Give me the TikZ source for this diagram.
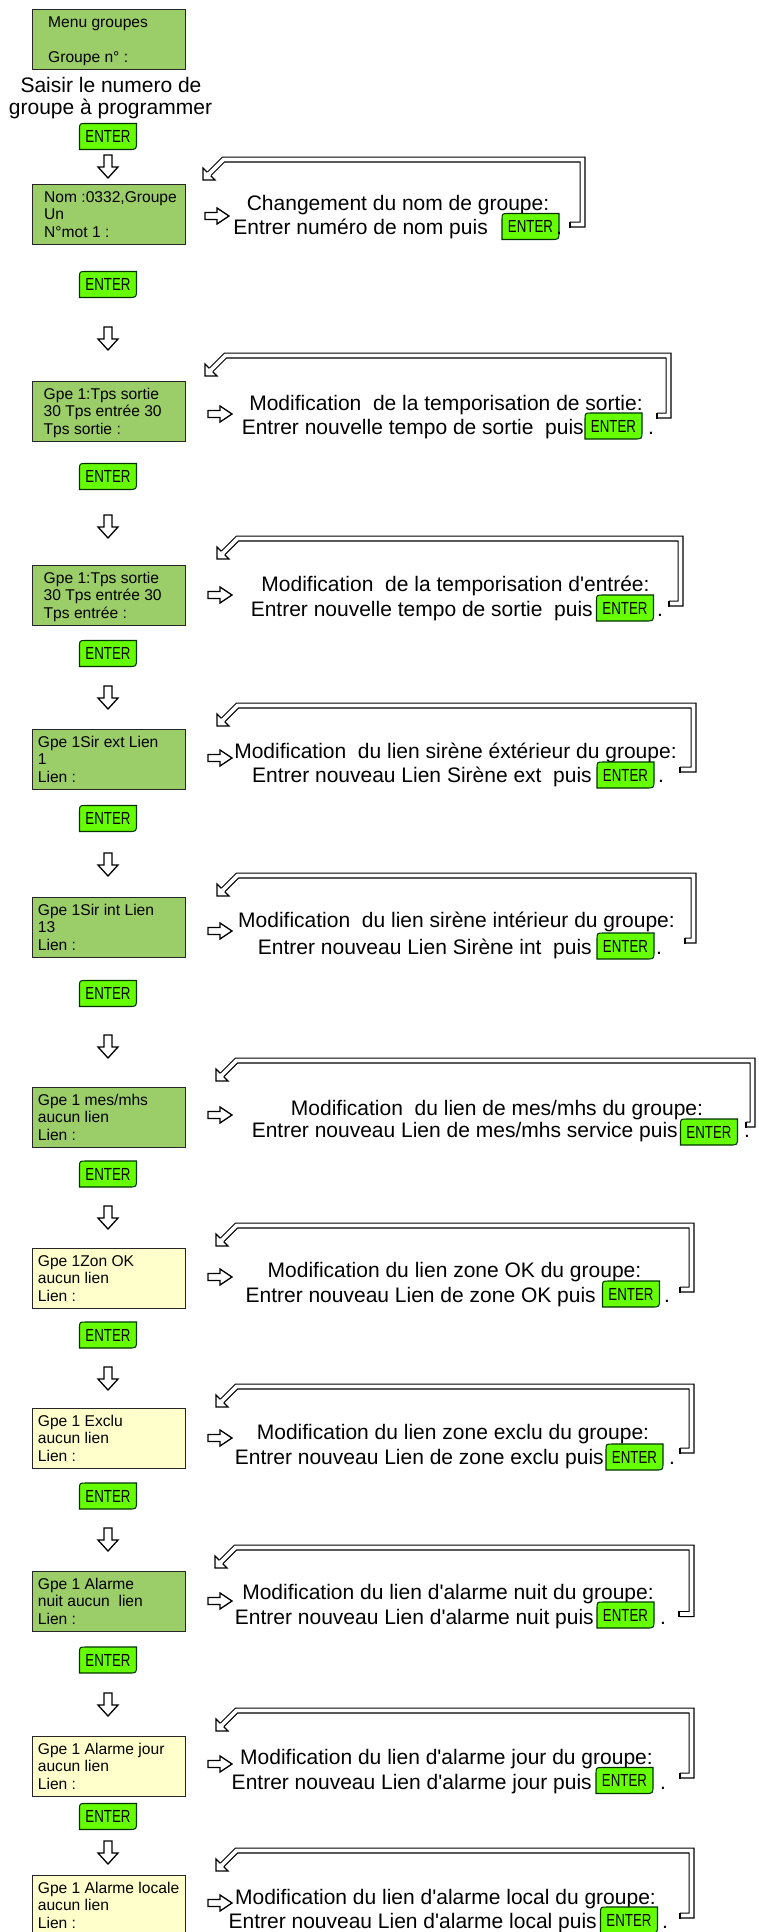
\documentclass[tikz,border=0pt]{standalone}
\usepackage{fontspec}
\setmainfont{Liberation Sans}[Ligatures=TeXOff]
\usetikzlibrary{calc}
\definecolor{boxgreen}{RGB}{155,205,105}
\definecolor{boxyellow}{RGB}{255,255,204}
\definecolor{entergreen}{RGB}{102,255,0}
\tikzset{
  lcdbox/.style={draw=black!85, line width=1.2pt, minimum width=153pt, minimum height=60pt, inner sep=0pt, anchor=north west},
  greenbox/.style={lcdbox, fill=boxgreen},
  yellowbox/.style={lcdbox, fill=boxyellow},
  lcdtext/.style={anchor=base west, inner sep=0pt, font=\fontsize{15.6}{17.6}\selectfont},
  bigtext/.style={inner sep=0pt, font=\fontsize{21}{25}\selectfont},
  entershape/.style={fill=entergreen, draw=black!80!green, line width=1.1pt},
  entertext/.style={inner sep=0pt, font=\fontsize{17.5}{17.5}\selectfont},
  band/.style={double=white, double distance=3.7pt, line width=1.15pt, draw=black, line join=miter},
  bandline/.style={draw=black, line width=1.15pt, line join=miter},
  blockarrow/.style={fill=white, draw=black, line width=1.3pt, line join=miter},
}
% ENTER key: name, centre x, centre y
\newcommand\enterbtn[3]{%
  \path[entershape] (#2-28.5,#3-6.5) .. controls (#2-28.5,#3-13) .. (#2-22,#3-13) -- (#2+28.5,#3-13) -- (#2+28.5,#3+5) .. controls (#2+28.5,#3+13) .. (#2+20.5,#3+13) -- (#2-28.5,#3+13) -- cycle;
  \node[entertext] (#1) at (#2,#3) {\scalebox{0.76}[1]{ENTER}};
}
% hollow down arrow: centre x, top y
\newcommand\downblock[2]{%
  \path[blockarrow] (#1-4,#2) -- (#1+4,#2) -- (#1+4,#2+12) -- (#1+10,#2+12) -- (#1,#2+23) -- (#1-10,#2+12) -- (#1-4,#2+12) -- cycle;}
% hollow right arrow: left x, centre y
\newcommand\rightblock[2]{%
  \path[blockarrow] (#1,#2-3.5) -- (#1+12,#2-3.5) -- (#1+12,#2-8) -- (#1+24,#2) -- (#1+12,#2+8) -- (#1+12,#2+3.5) -- (#1,#2+3.5) -- cycle;}
% hollow bent return arrow: top y, corner x, right x, stub y, stub left x
\newcommand\backarrow[5]{%
  \draw[band] (#5,#4) -- (#3,#4) -- (#3,#1) -- (#2,#1) -- (#2-14.5,#1+14.5);
  \fill[white] (#2-20.5,#1+20.5) -- (#2-20.5,#1+8.5) -- (#2-8.5,#1+20.5) -- cycle;
  \draw[bandline] (#2-16.27,#1+12.73) -- (#2-20.5,#1+8.5) -- (#2-20.5,#1+20.5) -- (#2-8.5,#1+20.5) -- (#2-12.73,#1+16.27);
  \draw[bandline] (#5,#4-3.0) -- (#5,#4+3.0);
}
% LCD box: name, style, top, text x, three lines
\newcommand\lcd[7]{%
  \node[#2] (#1) at (32,#3) {};
  \node[lcdtext] (#1a) at (#4,#3+18) {#5};
  \node[lcdtext] (#1b) at (#4,#3+35.6) {#6};
  \node[lcdtext] (#1c) at (#4,#3+53.2) {#7};
}
\begin{document}
\begin{tikzpicture}[x=1pt,y=-1pt]
\useasboundingbox (0,0) rectangle (758,1932);
\fill[white] (0,0) rectangle (758,1932);

% ---------- left column ----------
\node[greenbox] (b0) at (32,9) {};
\node[lcdtext] (b0a) at (48,28) {Menu groupes};
\node[lcdtext] (b0c) at (48,63) {Groupe n° :};
\node[bigtext,anchor=base] (intro1) at (111,93) {Saisir le numero de};
\node[bigtext,anchor=base] (intro2) at (110.5,115) {groupe à programmer};
\enterbtn{e0}{108}{136.5}
\downblock{108}{155}

\lcd{b1}{greenbox}{184}{44}{Nom :0332,Groupe}{Un}{N°mot 1 :}
\enterbtn{e1}{108}{284.5}
\downblock{108}{327}
\lcd{b2}{greenbox}{381}{43.5}{Gpe 1:Tps sortie}{30 Tps entrée 30}{Tps sortie :}
\enterbtn{e2}{108}{476.5}
\downblock{108}{515}
\lcd{b3}{greenbox}{565}{43.5}{Gpe 1:Tps sortie}{30 Tps entrée 30}{Tps entrée :}
\enterbtn{e3}{108}{653.5}
\downblock{108}{686}
\lcd{b4}{greenbox}{729}{37.7}{Gpe 1Sir ext Lien}{1}{Lien :}
\enterbtn{e4}{108}{818.5}
\downblock{108}{853}
\lcd{b5}{greenbox}{897}{37.7}{Gpe 1Sir int Lien}{13}{Lien :}
\enterbtn{e5}{108}{993.5}
\downblock{108}{1035}
\lcd{b6}{greenbox}{1087}{37.7}{Gpe 1 mes/mhs}{aucun lien}{Lien :}
\enterbtn{e6}{108}{1174}
\downblock{108}{1206}
\lcd{b7}{yellowbox}{1248}{37.7}{Gpe 1Zon OK}{aucun lien}{Lien :}
\enterbtn{e7}{108}{1335}
\downblock{108}{1367}
\lcd{b8}{yellowbox}{1408}{37.7}{Gpe 1 Exclu}{aucun lien}{Lien :}
\enterbtn{e8}{108}{1496}
\downblock{108}{1528}
\lcd{b9}{greenbox}{1571}{37.7}{Gpe 1 Alarme}{nuit aucun\ \ lien}{Lien :}
\enterbtn{e9}{108}{1660}
\downblock{108}{1693}
\lcd{b10}{yellowbox}{1736}{37.7}{Gpe 1 Alarme jour}{aucun lien}{Lien :}
\enterbtn{e10}{108}{1816.5}
\downblock{108}{1841}
\lcd{b11}{yellowbox}{1875}{37.7}{Gpe 1 Alarme locale}{aucun lien}{Lien :}

% ---------- return arrows ----------
\backarrow{159.5}{223.5}{582.5}{224.5}{570}
\backarrow{355.5}{225.5}{668.5}{415.5}{657}
\backarrow{538.5}{237.5}{680.5}{603.5}{669}
\backarrow{705.5}{237.5}{693.5}{769.5}{680}
\backarrow{875.5}{237.5}{693.5}{940.5}{685}
\backarrow{1060.5}{236.5}{752.5}{1124.5}{746}
\backarrow{1225.5}{236.5}{691.5}{1289.5}{680}
\backarrow{1386.5}{236.5}{691.5}{1450.5}{680}
\backarrow{1547.5}{235.5}{691.5}{1614}{679}
\backarrow{1710.5}{236.5}{691.5}{1775.5}{680}
\backarrow{1850.5}{236.5}{691.5}{1915.5}{680}

% ---------- right arrows ----------
\rightblock{205}{216}
\rightblock{208}{414}
\rightblock{208}{595}
\rightblock{208}{758}
\rightblock{208}{931}
\rightblock{208}{1115}
\rightblock{208}{1277}
\rightblock{208}{1438}
\rightblock{208}{1601}
\rightblock{208}{1764}
\rightblock{208}{1903}

% ---------- explanations ----------
\node[bigtext,anchor=base] (m1) at (398,210) {Changement du nom de groupe:};
\node[bigtext,anchor=base east] (n1) at (488,234) {Entrer numéro de nom puis};
\enterbtn{k1}{530.5}{226.5}
\node[bigtext,anchor=base west] (p1) at (556,234) {.};

\node[bigtext,anchor=base] (m2) at (446,410) {Modification\ \ de la temporisation de sortie:};
\node[bigtext,anchor=base east] (n2) at (584,434) {Entrer nouvelle tempo de sortie\ \ puis};
\enterbtn{k2}{613.5}{426}
\node[bigtext,anchor=base west] (p2) at (648,434) {.};

\node[bigtext,anchor=base] (m3) at (455.5,591) {Modification\ \ de la temporisation d'entrée:};
\node[bigtext,anchor=base east] (n3) at (593,616) {Entrer nouvelle tempo de sortie\ \ puis};
\enterbtn{k3}{625}{608}
\node[bigtext,anchor=base west] (p3) at (657,616) {.};

\node[bigtext,anchor=base] (m4) at (455.5,758) {Modification\ \ du lien sirène éxtérieur du groupe:};
\node[bigtext,anchor=base east] (n4) at (592,782) {Entrer nouveau Lien Sirène ext\ \ puis};
\enterbtn{k4}{625.5}{775}
\node[bigtext,anchor=base west] (p4) at (658,782) {.};

\node[bigtext,anchor=base] (m5) at (456.5,927) {Modification\ \ du lien sirène intérieur du groupe:};
\node[bigtext,anchor=base east] (n5) at (592,954) {Entrer nouveau Lien Sirène int\ \ puis};
\enterbtn{k5}{625.5}{946}
\node[bigtext,anchor=base west] (p5) at (656,954) {.};

\node[bigtext,anchor=base] (m6) at (497,1115) {Modification\ \ du lien de mes/mhs du groupe:};
\node[bigtext,anchor=base east] (n6) at (678,1137) {Entrer nouveau Lien de mes/mhs service puis};
\enterbtn{k6}{709}{1132}
\node[bigtext,anchor=base west] (p6) at (744,1137) {.};

\node[bigtext,anchor=base] (m7) at (454.5,1277) {Modification du lien zone OK du groupe:};
\node[bigtext,anchor=base east] (n7) at (596,1302) {Entrer nouveau Lien de zone OK puis};
\enterbtn{k7}{631}{1294}
\node[bigtext,anchor=base west] (p7) at (664,1302) {.};

\node[bigtext,anchor=base] (m8) at (453,1439) {Modification du lien zone exclu du groupe:};
\node[bigtext,anchor=base east] (n8) at (604,1464) {Entrer nouveau Lien de zone exclu puis};
\enterbtn{k8}{634.5}{1457}
\node[bigtext,anchor=base west] (p8) at (669,1464) {.};

\node[bigtext,anchor=base] (m9) at (448,1599) {Modification du lien d'alarme nuit du groupe:};
\node[bigtext,anchor=base east] (n9) at (594,1624) {Entrer nouveau Lien d'alarme nuit puis};
\enterbtn{k9}{625.5}{1615}
\node[bigtext,anchor=base west] (p9) at (660,1624) {.};

\node[bigtext,anchor=base] (m10) at (446.5,1764) {Modification du lien d'alarme jour du groupe:};
\node[bigtext,anchor=base east] (n10) at (592,1789) {Entrer nouveau Lien d'alarme jour puis};
\enterbtn{k10}{624.5}{1780.5}
\node[bigtext,anchor=base west] (p10) at (660,1789) {.};

\node[bigtext,anchor=base] (m11) at (445.5,1904) {Modification du lien d'alarme local du groupe:};
\node[bigtext,anchor=base east] (n11) at (597,1928) {Entrer nouveau Lien d'alarme local puis};
\enterbtn{k11}{629}{1920}
\node[bigtext,anchor=base west] (p11) at (662,1928) {.};
\end{tikzpicture}
\end{document}
